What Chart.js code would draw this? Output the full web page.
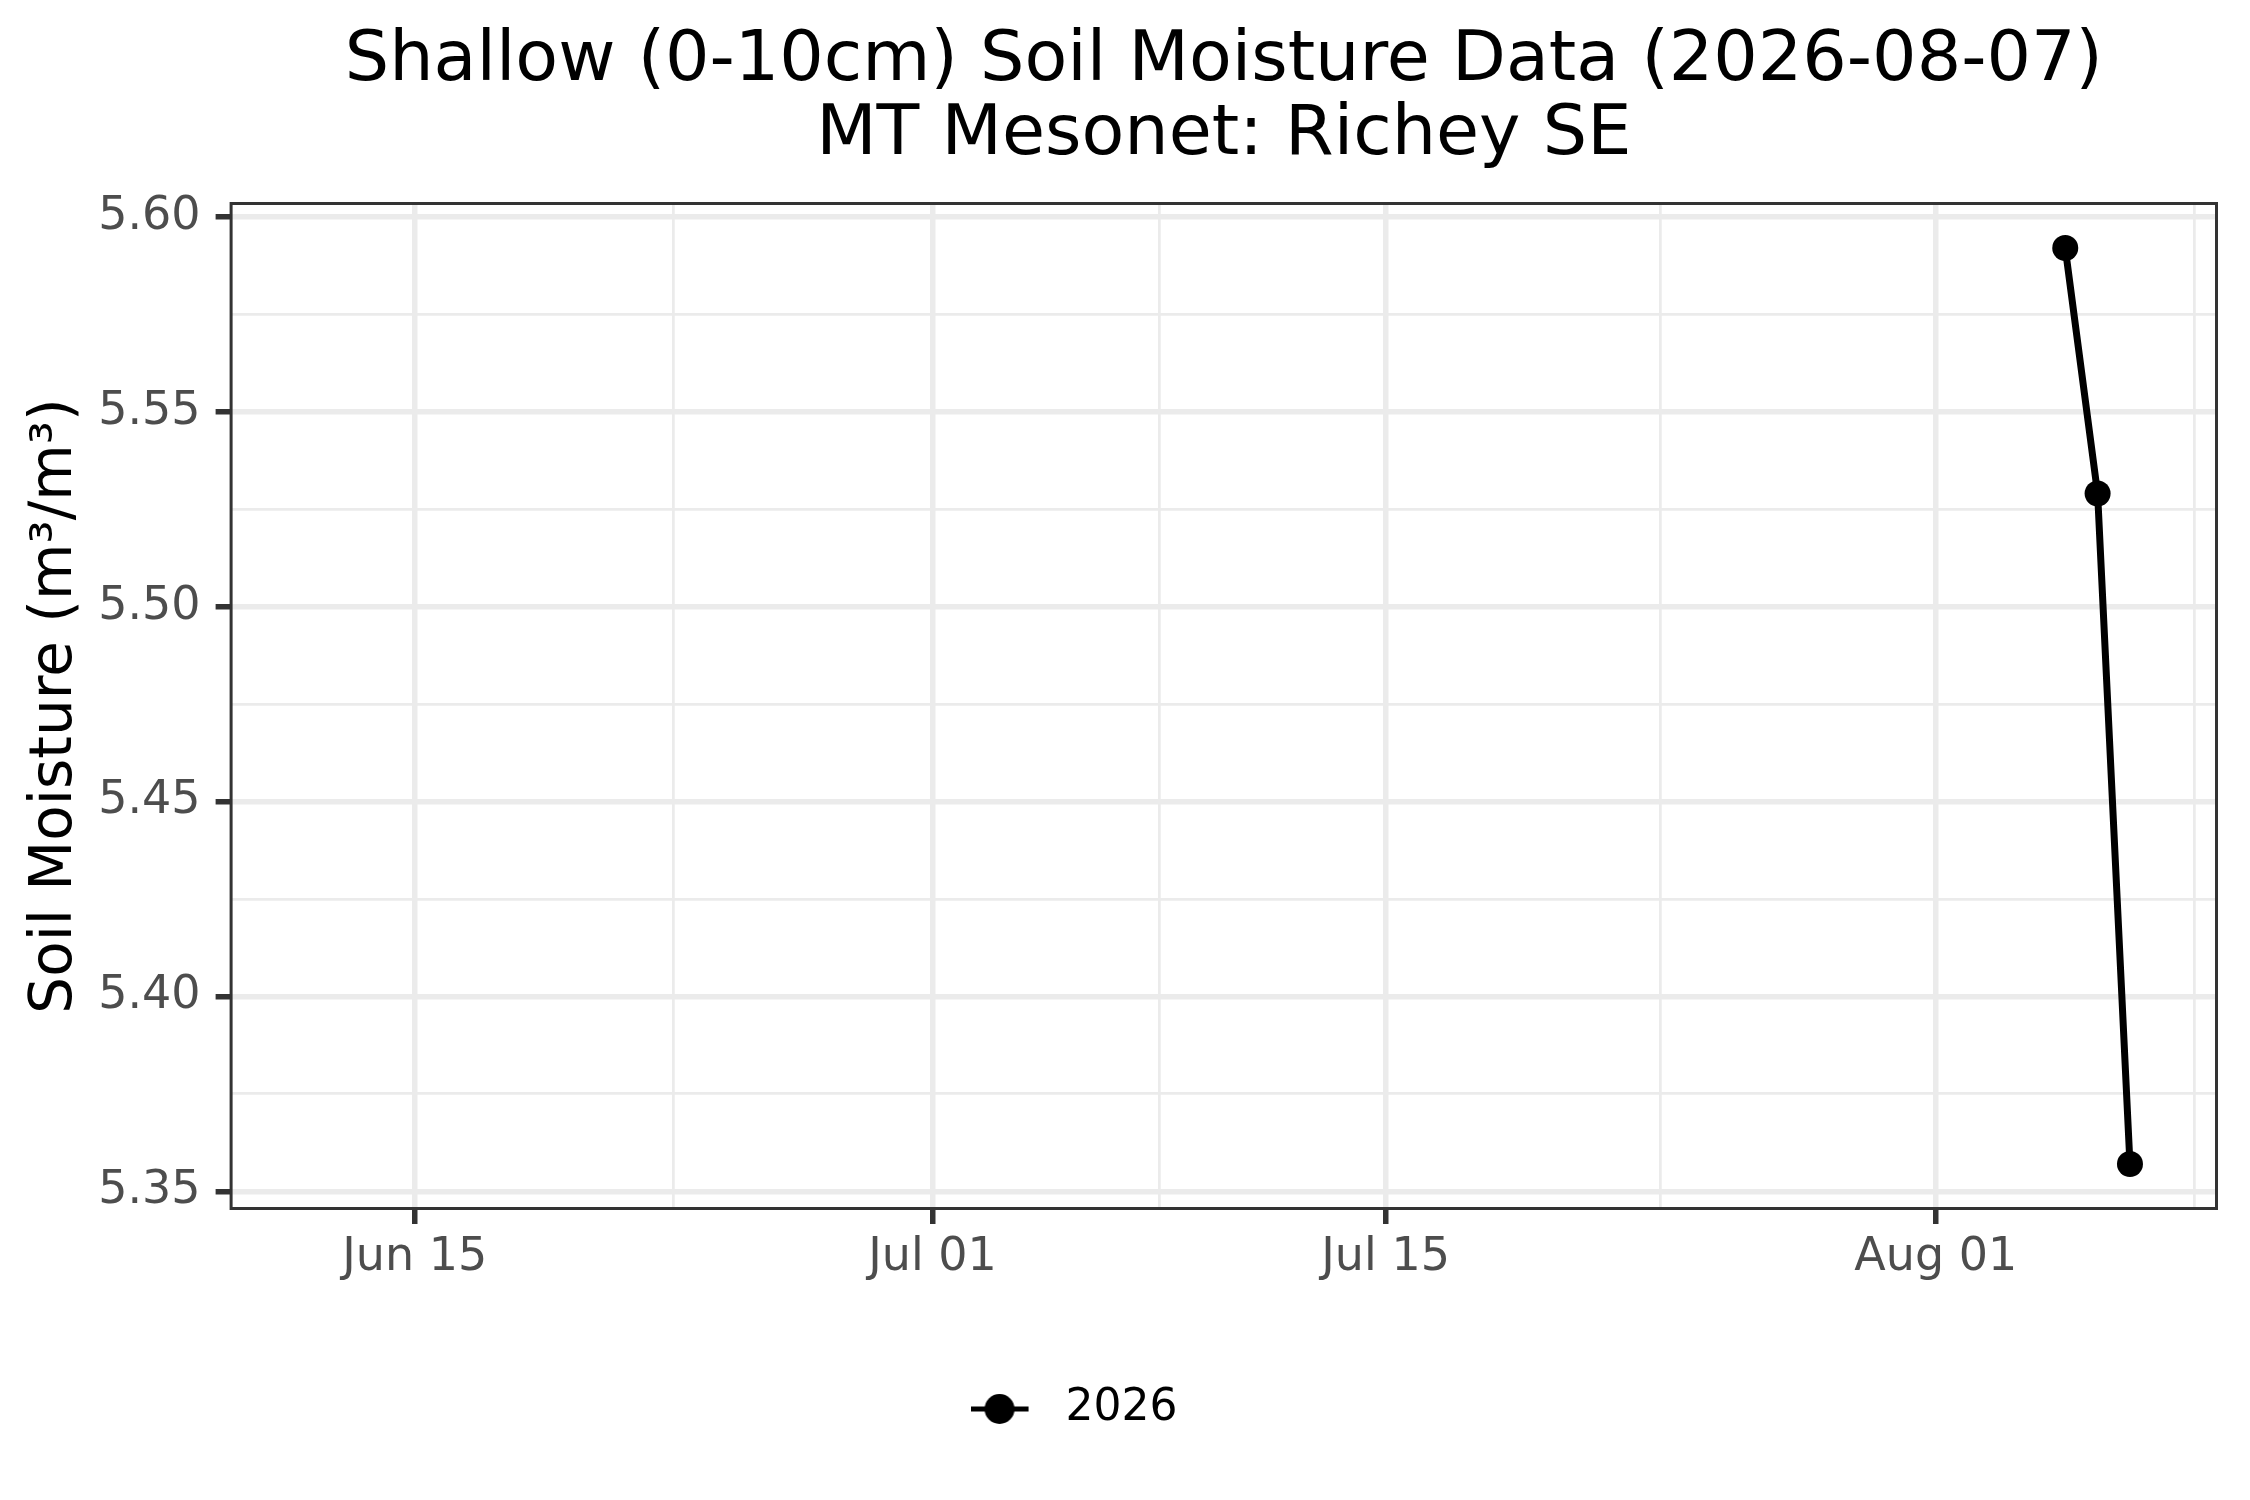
<!DOCTYPE html>
<html>
<head>
<meta charset="utf-8">
<script src="https://cdn.jsdelivr.net/npm/chart.js@4.4.1/dist/chart.umd.min.js"></script>
<style>
  html, body { margin: 0; padding: 0; background: #ffffff; }
  #wrap { width: 2250px; height: 1500px; }
</style>
</head>
<body>
<div id="wrap"><canvas id="chart" width="2250" height="1500"></canvas></div>
<script>
// data
var obsDates = ['2026-08-05', '2026-08-06', '2026-08-07'];
var moisture = [5.592, 5.529, 5.357];
var seriesLabel = '2026';

// axis breaks
var xTickDates = ['2026-06-15', '2026-07-01', '2026-07-15', '2026-08-01'];
var xTickLabels = ['Jun 15', 'Jul 01', 'Jul 15', 'Aug 01'];
var xMinorDates = ['2026-06-23', '2026-07-08', '2026-07-23T12:00', '2026-08-09'];
var yTicks = [5.35, 5.40, 5.45, 5.50, 5.55, 5.60];
var yTickLabels = ['5.35', '5.40', '5.45', '5.50', '5.55', '5.60'];
var yMinor = [5.375, 5.425, 5.475, 5.525, 5.575];

var DAY = 86400000;
function toMs(d) {
    return Date.parse(d.length > 10 ? d + 'Z' : d + 'T00:00:00Z');
}

var gridColor = '#EBEBEB';
var tickColor = '#333333';
var font = 'DejaVu Sans';

// legend key: line with a dot, like ggplot
var key = document.createElement('canvas');
key.width = 73;
key.height = 40;
var k = key.getContext('2d');
k.strokeStyle = '#000';
k.fillStyle = '#000';
k.lineWidth = 5;
k.beginPath(); k.moveTo(0, 20); k.lineTo(58, 20); k.stroke();
k.beginPath(); k.arc(29, 20, 15, 0, Math.PI * 2); k.fill();

function buildTicks(major, minor) {
    var t = major.map(function (v) { return { value: v }; })
        .concat(minor.map(function (v) { return { value: v, minor: true }; }));
    t.sort(function (a, b) { return a.value - b.value; });
    return t;
}

function isMinor(ctx) {
    return ctx.tick && ctx.tick.minor;
}

var panelBorder = {
    id: 'panelBorder',
    afterDraw: function (chart) {
        var a = chart.chartArea, c = chart.ctx;
        c.save();
        c.strokeStyle = tickColor;
        c.lineWidth = 3;
        c.strokeRect(a.left + 1.5, a.top + 1.5, a.right - a.left - 3, a.bottom - a.top - 3);
        c.restore();
    }
};

var gridOpts = {
    color: gridColor,
    lineWidth: function (ctx) { return isMinor(ctx) ? 2.75 : 5.5; },
    tickColor: function (ctx) { return isMinor(ctx) ? 'rgba(0,0,0,0)' : tickColor; },
    tickWidth: 5.5,
    tickLength: 14,
    drawTicks: true
};

new Chart('chart', {
    type: 'line',
    data: {
        datasets: [{
            label: seriesLabel,
            data: obsDates.map(function (d, i) { return { x: toMs(d), y: moisture[i] }; }),
            borderColor: '#000000',
            backgroundColor: '#000000',
            borderWidth: 7,
            pointRadius: 13,
            pointBorderWidth: 0,
            pointBackgroundColor: '#000000',
            tension: 0
        }]
    },
    options: {
        responsive: false,
        animation: false,
        devicePixelRatio: 1,
        layout: { padding: { left: 0, right: 32, top: 0, bottom: 59 } },
        scales: {
            x: {
                type: 'linear',
                position: 'bottom',
                min: toMs('2026-06-15') - 5.72 * DAY,
                max: toMs('2026-08-01') + 8.72 * DAY,
                afterBuildTicks: function (scale) {
                    scale.ticks = buildTicks(xTickDates.map(toMs), xMinorDates.map(toMs));
                },
                afterFit: function (scale) { scale.height = 167; },
                grid: gridOpts,
                border: { display: false },
                ticks: {
                    autoSkip: false,
                    maxRotation: 0,
                    padding: 11,
                    color: '#4D4D4D',
                    font: { family: font, size: 46, lineHeight: 1 },
                    callback: function (value, index, ticks) {
                        if (ticks[index].minor) return '';
                        var i = xTickDates.map(toMs).indexOf(value);
                        return i >= 0 ? xTickLabels[i] : '';
                    }
                }
            },
            y: {
                type: 'linear',
                min: 5.3452,
                max: 5.6038,
                afterBuildTicks: function (scale) {
                    scale.ticks = buildTicks(yTicks, yMinor);
                },
                afterFit: function (scale) { scale.width = 229.6; },
                grid: gridOpts,
                border: { display: false },
                title: {
                    display: true,
                    text: 'Soil Moisture (m³/m³)',
                    color: '#000000',
                    font: { family: font, size: 58, lineHeight: 1 },
                    padding: { top: 27, bottom: 0 }
                },
                ticks: {
                    autoSkip: false,
                    padding: 15,
                    color: '#4D4D4D',
                    font: { family: font, size: 46, lineHeight: 1 },
                    callback: function (value, index, ticks) {
                        if (ticks[index].minor) return '';
                        var i = yTicks.indexOf(value);
                        return i >= 0 ? yTickLabels[i] : '';
                    }
                }
            }
        },
        plugins: {
            title: {
                display: true,
                fullSize: false,
                text: ['Shallow (0-10cm) Soil Moisture Data (2026-08-07)', 'MT Mesonet: Richey SE'],
                color: '#000000',
                font: { family: font, size: 70, weight: 'normal', lineHeight: 74 / 70 },
                padding: { top: 25, bottom: 29 }
            },
            legend: {
                position: 'bottom',
                labels: {
                    usePointStyle: true,
                    pointStyleWidth: 73,
                    padding: 10,
                    color: '#000000',
                    font: { family: font, size: 44 },
                    generateLabels: function () {
                        return [{
                            text: seriesLabel + '\u00a0\u00a0\u00a0\u00a0\u00a0',
                            pointStyle: key,
                            fillStyle: '#000',
                            strokeStyle: '#000',
                            lineWidth: 0,
                            hidden: false,
                            datasetIndex: 0
                        }];
                    }
                }
            },
            tooltip: { enabled: false }
        }
    },
    plugins: [panelBorder]
});
</script>
</body>
</html>
